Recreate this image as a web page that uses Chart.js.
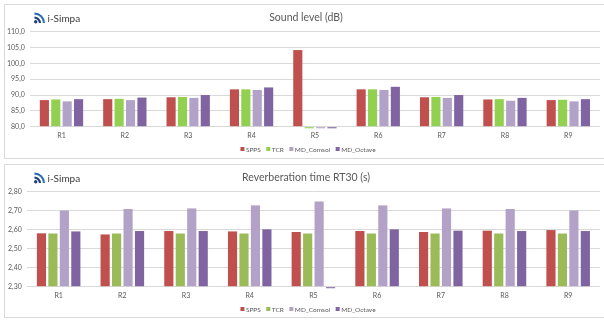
<!DOCTYPE html>
<html>
<head>
<meta charset="utf-8">
<script src="https://cdn.jsdelivr.net/npm/chart.js@4/dist/chart.umd.min.js"></script>
<style>
  html, body { margin: 0; padding: 0; background: #fff; width: 604px; height: 323px; overflow: hidden; position: relative; }
  .panel { position: absolute; left: 4px; width: 612px; border: 1px solid #d9d9d9; box-sizing: border-box; background: #fff; overflow: hidden; }
  .panel canvas { position: absolute; left: 0; top: 0; }
</style>
</head>
<body>
<div class="panel" style="top:4px;height:155px"><canvas id="splChart" width="600" height="153"></canvas></div>
<div class="panel" style="top:164px;height:154px"><canvas id="rtChart" width="600" height="152"></canvas></div>
<script>
// Receivers and methods
const categories = ['R1', 'R2', 'R3', 'R4', 'R5', 'R6', 'R7', 'R8', 'R9'];
const seriesNames = ['SPPS', 'TCR', 'MD_Comsol', 'MD_Octave'];

// Sound level (dB); R5 has no result for TCR / MD_* (sliver under the axis)
const splSPPS    = [88.4, 88.7, 89.3, 91.8, 104.2, 91.8, 89.3, 88.6, 88.4];
const splTCR     = [88.6, 88.8, 89.4, 91.8, 79.5, 91.8, 89.4, 88.7, 88.5];
const splComsol  = [88.0, 88.4, 89.1, 91.6, 79.5, 91.6, 89.1, 88.2, 88.0];
const splOctave  = [88.7, 89.2, 90.0, 92.4, 79.5, 92.6, 90.0, 89.1, 88.7];
const splAxis = { min: 80, max: 110, step: 5, decimals: 1 };

// Reverberation time RT30 (s); R5 has no MD_Octave result
const rtSPPS   = [2.581, 2.575, 2.593, 2.591, 2.588, 2.593, 2.588, 2.595, 2.598];
const rtTCR    = [2.580, 2.580, 2.580, 2.580, 2.580, 2.580, 2.580, 2.580, 2.580];
const rtComsol = [2.701, 2.709, 2.712, 2.728, 2.749, 2.728, 2.712, 2.709, 2.701];
const rtOctave = [2.591, 2.593, 2.593, 2.602, 2.292, 2.602, 2.595, 2.593, 2.593];
const rtAxis = { min: 2.3, max: 2.8, step: 0.05, decimals: 2 };

const TEXT = '#595959';
const GRID = '#d9d9d9';
const FONT = 'Lato, "Open Sans", sans-serif';

// Title, logo and legend drawn on the canvas
const decor = {
  id: 'decor',
  afterDraw(chart, args, opts) {
    const ctx = chart.ctx;
    ctx.save();
    // logo icon
    ctx.fillStyle = '#1f3f7a';
    ctx.strokeStyle = '#1f3f7a';
    ctx.lineCap = 'butt';
    const ox = 29.5, oy = 18;
    ctx.beginPath(); ctx.arc(ox + 1.2, oy - 1.2, 1.7, 0, Math.PI * 2); ctx.fill();
    ctx.lineWidth = 2.1;
    ctx.beginPath(); ctx.arc(ox, oy, 5.4, -Math.PI / 2, 0); ctx.stroke();
    ctx.strokeStyle = '#2e6db5';
    ctx.beginPath(); ctx.arc(ox, oy, 9.4, -Math.PI / 2, 0); ctx.stroke();
    ctx.fillStyle = '#3a3a3a';
    ctx.font = '10px ' + FONT;
    ctx.textBaseline = 'middle';
    ctx.textAlign = 'left';
    ctx.fillText('i-Simpa', 42.5, 13.5);

    // title
    ctx.fillStyle = TEXT;
    ctx.font = '10.5px ' + FONT;
    ctx.textAlign = 'center';
    ctx.fillText(opts.title, 301, 12.5);

    // legend
    ctx.font = '6.5px ' + FONT;
    ctx.textAlign = 'left';
    const box = 4, gap = 1.5, itemGap = 5.5;
    const items = chart.data.datasets.map(d => ({ label: d.label, color: d.backgroundColor, w: box + gap + ctx.measureText(d.label).width }));
    const total = items.reduce((s, it) => s + it.w, 0) + itemGap * (items.length - 1);
    let x = opts.legendCenter - total / 2;
    const y = opts.legendY;
    items.forEach(it => {
      ctx.fillStyle = it.color;
      ctx.fillRect(x, y - box / 2, box, box);
      ctx.fillStyle = TEXT;
      ctx.fillText(it.label, x + box + gap, y + 0.5);
      x += it.w + itemGap;
    });
    ctx.restore();
  }
};

function makeChart(id, title, series, colors, axis, yWidth) {
  const fmt = v => Number(v).toFixed(axis.decimals).replace('.', ',');
  return new Chart(document.getElementById(id), {
    type: 'bar',
    data: {
      labels: categories,
      datasets: series.map((values, i) => ({
        label: seriesNames[i],
        data: values,
        backgroundColor: colors[i],
        borderWidth: 0,
        categoryPercentage: 0.72,
        barPercentage: 0.8,
        base: axis.min,
        clip: false
      }))
    },
    options: {
      responsive: false,
      animation: false,
      devicePixelRatio: 1,
      layout: { padding: { top: 26.7, right: 5, left: 0, bottom: 0 } },
      plugins: {
        legend: { display: false },
        title: { display: false },
        tooltip: { enabled: false },
        decor: { title: title, legendCenter: 303, legendY: 144 }
      },
      scales: {
        x: {
          grid: { display: false, drawTicks: false },
          border: { display: false },
          ticks: { color: TEXT, font: { family: FONT, size: 7 }, padding: 5, maxRotation: 0 },
          afterFit(scale) { scale.height = scale.chart.height - 26.7 - 95; }
        },
        y: {
          min: axis.min,
          max: axis.max,
          grid: { color: GRID, lineWidth: 1, drawTicks: false },
          border: { display: false },
          ticks: { stepSize: axis.step, color: TEXT, font: { family: FONT, size: 7 }, padding: 5, callback: fmt },
          afterFit(scale) { scale.width = yWidth; }
        }
      }
    },
    plugins: [decor]
  });
}

makeChart('splChart', 'Sound level (dB)',
  [splSPPS, splTCR, splComsol, splOctave],
  ['#C0504D', '#92D050', '#B3A2C7', '#8064A2'], splAxis, 24.8);

makeChart('rtChart', 'Reverberation time RT30 (s)',
  [rtSPPS, rtTCR, rtComsol, rtOctave],
  ['#C0504D', '#9BBB59', '#B3A2C7', '#8064A2'], rtAxis, 21.8);
</script>
</body>
</html>
